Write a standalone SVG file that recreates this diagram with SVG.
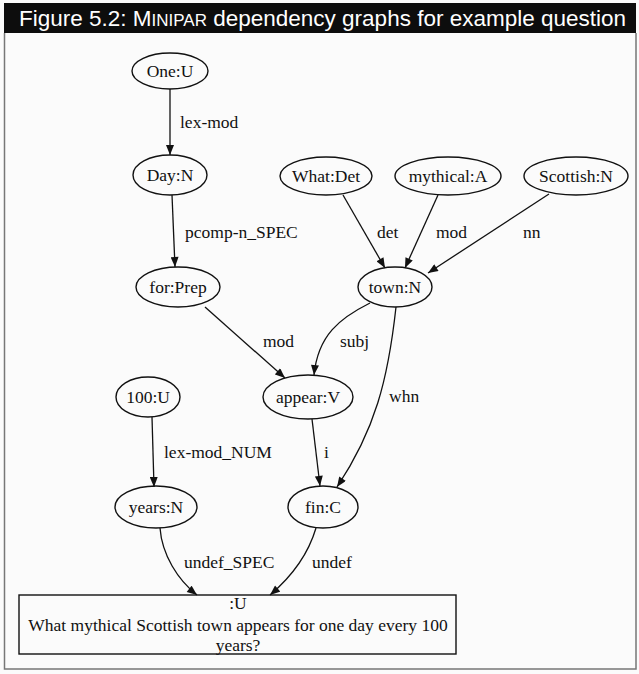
<svg xmlns="http://www.w3.org/2000/svg" width="639" height="674" viewBox="0 0 639 674">
  <style>
    .node ellipse, .node rect { fill: none; stroke: #111; stroke-width: 1.4; }
    .lbl { font-family: "Liberation Serif", "Times New Roman", serif; font-size: 17.5px; fill: #111; }
    .nlbl { font-family: "Liberation Serif", "Times New Roman", serif; font-size: 17.5px; fill: #111; text-anchor: middle; }
    .edge { fill: none; stroke: #111; stroke-width: 1.3; marker-end: url(#arrow); }
    .title { font-family: "Liberation Sans", Arial, sans-serif; font-size: 22.5px; fill: #fff; }
  </style>
  <defs>
    <marker id="arrow" viewBox="0 0 10 8" refX="10" refY="4" markerWidth="11" markerHeight="8" markerUnits="userSpaceOnUse" orient="auto">
      <path d="M0,0 L10,4 L0,8 z" fill="#111"/>
    </marker>
  </defs>

  <!-- page and frame -->
  <rect x="0" y="0" width="639" height="674" fill="#fbfbfb"/>
  <rect x="4" y="3" width="632" height="30" fill="#0d0d0d"/>
  <text class="title" x="19" y="26">Figure 5.2: M<tspan font-size="17">INIPAR</tspan> dependency graphs for example question</text>
  <path d="M4.5,33 V669 H636 V33" fill="none" stroke="#777" stroke-width="1.5"/>

  <!-- connectors -->
  <g id="edges">
    <path class="edge" d="M170,89 L170,155"/>
    <text class="lbl" x="180" y="128">lex-mod</text>

    <path class="edge" d="M172,195 L175,267"/>
    <text class="lbl" x="185" y="238">pcomp-n_SPEC</text>

    <path class="edge" d="M343,195 L385,268"/>
    <text class="lbl" x="377" y="238">det</text>

    <path class="edge" d="M438,195 L405,268"/>
    <text class="lbl" x="436" y="238">mod</text>

    <path class="edge" d="M549,194 L428,273"/>
    <text class="lbl" x="523" y="238">nn</text>

    <path class="edge" d="M205,307 L285,378"/>
    <text class="lbl" x="263" y="347">mod</text>

    <path class="edge" d="M370,303 C340,318 318,335 314,375"/>
    <text class="lbl" x="340" y="347">subj</text>

    <path class="edge" d="M396,307 C388,380 375,430 337,487"/>
    <text class="lbl" x="389" y="402">whn</text>

    <path class="edge" d="M152,417 L154,487"/>
    <text class="lbl" x="164" y="458">lex-mod_NUM</text>

    <path class="edge" d="M312,419 L320,486"/>
    <text class="lbl" x="324" y="458">i</text>

    <path class="edge" d="M160,528 C162,555 178,580 197,595"/>
    <text class="lbl" x="184" y="568">undef_SPEC</text>

    <path class="edge" d="M316,528 C308,555 290,578 270,595"/>
    <text class="lbl" x="312" y="568">undef</text>
  </g>

  <!-- nodes -->
  <g id="n-one" class="node"><ellipse cx="170" cy="71" rx="38" ry="18"/><text class="nlbl" x="170" y="77">One:U</text></g>
  <g id="n-day" class="node"><ellipse cx="170" cy="175" rx="37" ry="20"/><text class="nlbl" x="170" y="181">Day:N</text></g>
  <g id="n-what" class="node"><ellipse cx="326" cy="176" rx="46" ry="19"/><text class="nlbl" x="326" y="182">What:Det</text></g>
  <g id="n-mythical" class="node"><ellipse cx="448" cy="176" rx="53" ry="19"/><text class="nlbl" x="448" y="182">mythical:A</text></g>
  <g id="n-scottish" class="node"><ellipse cx="576" cy="176" rx="52" ry="19"/><text class="nlbl" x="576" y="182">Scottish:N</text></g>
  <g id="n-for" class="node"><ellipse cx="178" cy="287" rx="42" ry="20"/><text class="nlbl" x="178" y="293">for:Prep</text></g>
  <g id="n-town" class="node"><ellipse cx="395" cy="287" rx="37" ry="20"/><text class="nlbl" x="395" y="293">town:N</text></g>
  <g id="n-100" class="node"><ellipse cx="148" cy="397" rx="32" ry="20"/><text class="nlbl" x="148" y="403">100:U</text></g>
  <g id="n-appear" class="node"><ellipse cx="308" cy="397" rx="45" ry="22"/><text class="nlbl" x="308" y="403">appear:V</text></g>
  <g id="n-years" class="node"><ellipse cx="156" cy="507" rx="41" ry="21"/><text class="nlbl" x="156" y="513">years:N</text></g>
  <g id="n-fin" class="node"><ellipse cx="323" cy="507" rx="35" ry="21"/><text class="nlbl" x="323" y="513">fin:C</text></g>
  <g id="n-root" class="node">
    <rect x="19" y="595" width="437" height="59"/>
    <text class="nlbl" x="238" y="609">:U</text>
    <text class="nlbl" x="238" y="631">What mythical Scottish town appears for one day every 100</text>
    <text class="nlbl" x="238" y="651">years?</text>
  </g>
</svg>
